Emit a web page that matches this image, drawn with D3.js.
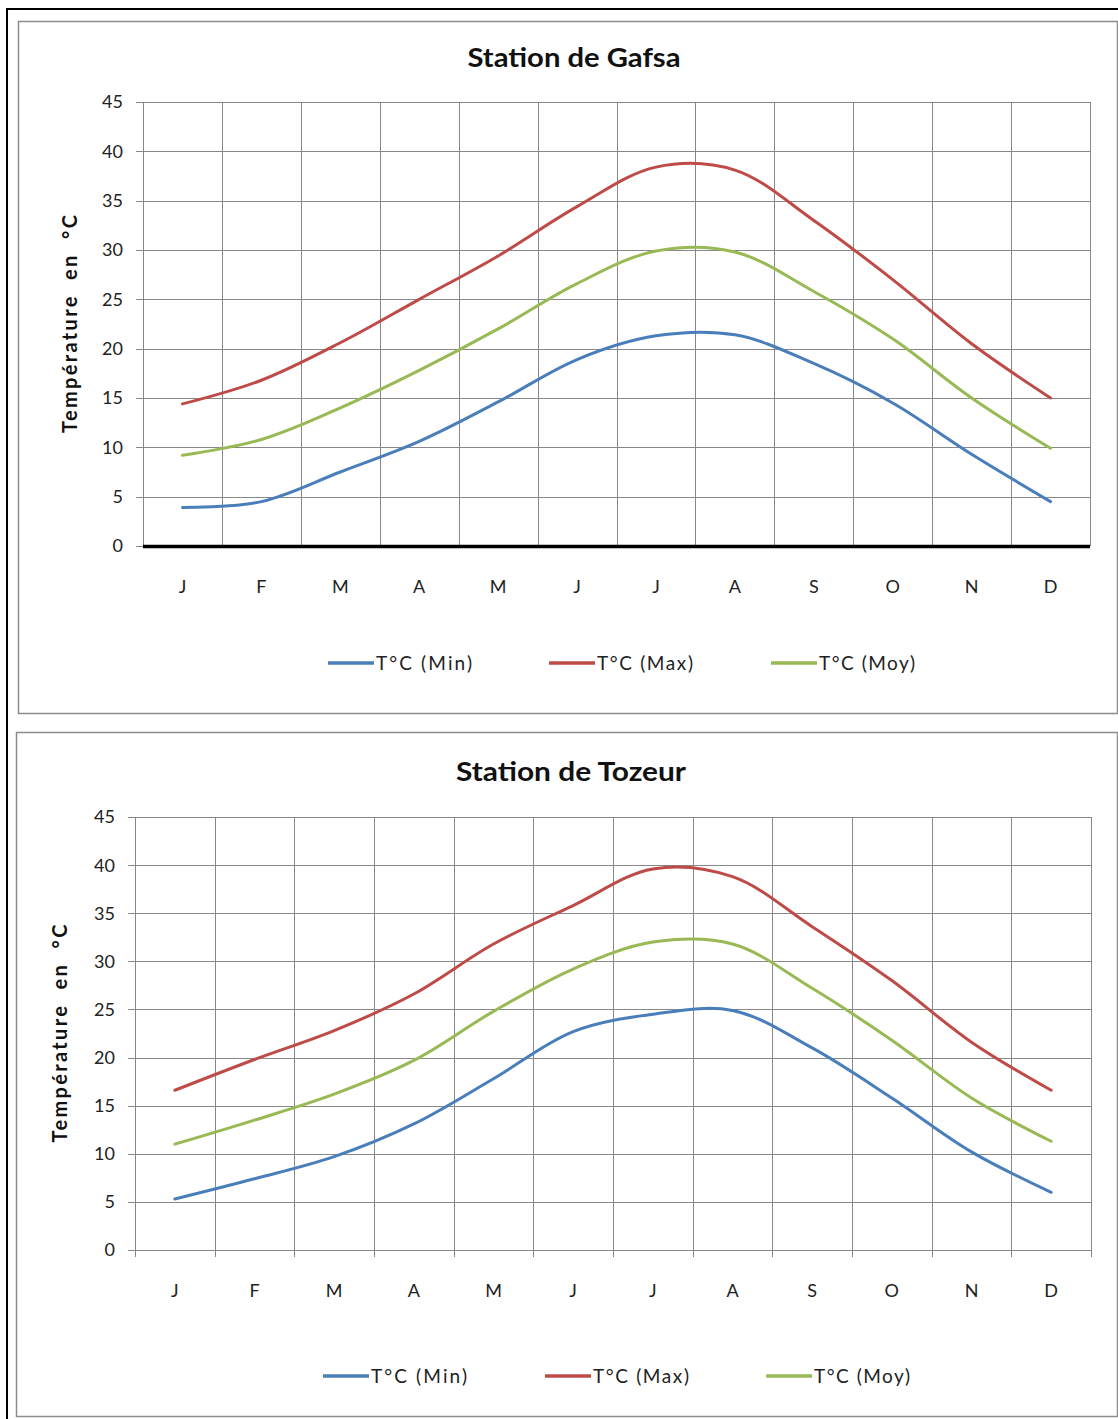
<!DOCTYPE html>
<html><head><meta charset="utf-8">
<script src="https://cdn.jsdelivr.net/npm/d3@7"></script>
<style>body{margin:0;background:#fff}svg{display:block}text{font-family:Lato,"Open Sans",sans-serif}</style>
</head><body><svg id="c" width="1118" height="1419"></svg>
<script>
const months = ["J","F","M","A","M","J","J","A","S","O","N","D"];
const yTicks = [0,5,10,15,20,25,30,35,40,45];
const seriesNames = ["T°C (Min)","T°C (Max)","T°C (Moy)"];
const seriesColors = ["#4A7EBB","#BE4B48","#98B954"];
const gafsaMin = [3.9,4.5,7.5,10.6,14.6,18.9,21.3,21.4,18.5,14.5,9.3,4.5];
const gafsaMax = [14.4,16.8,20.6,25.0,29.4,34.4,38.4,38.1,33.0,27.0,20.5,15.0];
const gafsaMoy = [9.2,10.8,14.0,17.8,22.0,26.6,29.9,29.8,25.8,21.0,15.0,9.9];
const tozeurMin = [5.3,7.4,9.7,13.1,17.8,22.7,24.5,24.9,21.0,15.8,10.2,6.0];
const tozeurMax = [16.6,19.8,22.8,26.6,31.8,35.8,39.6,38.8,33.6,28.0,21.6,16.6];
const tozeurMoy = [11.0,13.5,16.2,19.7,24.8,29.2,32.0,31.8,27.2,21.8,15.8,11.3];

const svg = d3.select("#c");
svg.append("rect").attr("x",7).attr("y",9).attr("width",1130).attr("height",1430)
  .attr("fill","none").attr("stroke","#000").attr("stroke-width",2);

function chart(cfg){
  const g = svg.append("g");
  g.append("rect").attr("x",cfg.box[0]+0.5).attr("y",cfg.box[1]+0.5).attr("width",cfg.box[2]).attr("height",cfg.box[3])
    .attr("fill","#fff").attr("stroke","#8c8c8c").attr("stroke-width",1.5);
  const x = d3.scaleBand().domain(d3.range(12)).range([cfg.left,cfg.right]);
  const y = d3.scaleLinear().domain([0,45]).range([cfg.bottom,cfg.top]);
  g.append("g").selectAll("line").data(yTicks).join("line")
    .attr("x1",cfg.left-7).attr("x2",cfg.right).attr("y1",d=>Math.round(y(d))+0.5).attr("y2",d=>Math.round(y(d))+0.5)
    .attr("stroke","#888").attr("stroke-width",1);
  const vx = d3.range(13).map(i=> i<12 ? x(i) : cfg.right);
  g.append("g").selectAll("line").data(vx).join("line")
    .attr("x1",d=>Math.round(d)+0.5).attr("x2",d=>Math.round(d)+0.5)
    .attr("y1",cfg.top).attr("y2",cfg.bottom + (cfg.thickAxis?0:7))
    .attr("stroke","#888").attr("stroke-width",1);
  if(cfg.thickAxis){
    g.append("line").attr("x1",cfg.left).attr("x2",cfg.right).attr("y1",y(0)+0.5).attr("y2",y(0)+0.5)
      .attr("stroke","#000").attr("stroke-width",3.5);
  }
  g.append("g").selectAll("text").data(yTicks).join("text")
    .attr("x",cfg.left-20).attr("y",d=>y(d)).attr("dy","0.36em").attr("text-anchor","end")
    .attr("font-size",18).attr("fill","#222").text(d=>d);
  g.append("g").selectAll("text").data(months).join("text")
    .attr("x",(d,i)=>x(i)+x.bandwidth()/2).attr("y",cfg.bottom+47).attr("text-anchor","middle")
    .attr("font-size",18).attr("fill","#222").text(d=>d);
  g.append("text").attr("x",cfg.titleX).attr("y",cfg.titleY).attr("text-anchor","middle")
    .attr("font-size",26).attr("font-weight","bold").attr("fill","#111")
    .attr("textLength",cfg.titleLen).attr("lengthAdjust","spacingAndGlyphs").text(cfg.title);
  const midY = (cfg.top+cfg.bottom)/2;
  g.append("text").attr("transform",`translate(${cfg.ytX},${midY}) rotate(-90)`).attr("text-anchor","middle")
    .attr("font-size",20).attr("font-weight","bold").attr("fill","#111").attr("xml:space","preserve")
    .attr("textLength",218).attr("lengthAdjust","spacing")
    .text("Température  en  °C");
  const line = d3.line().x((d,i)=>x(i)+x.bandwidth()/2).y(d=>y(d)).curve(d3.curveCatmullRom.alpha(0.5));
  cfg.series.forEach((s,k)=>{
    g.append("path").attr("d",line(s)).attr("fill","none").attr("stroke",seriesColors[k])
      .attr("stroke-width",3).attr("stroke-linecap","round");
  });
  cfg.legendX.forEach((lx,k)=>{
    g.append("line").attr("x1",lx).attr("x2",lx+46).attr("y1",cfg.legendY).attr("y2",cfg.legendY)
      .attr("stroke",seriesColors[k]).attr("stroke-width",3.5);
    g.append("text").attr("x",lx+48).attr("y",cfg.legendY).attr("dy","0.36em")
      .attr("font-size",19).attr("fill","#222")
      .attr("textLength",96).attr("lengthAdjust","spacing").text(seriesNames[k]);
  });
}

chart({box:[18,21,1099,692], left:143, right:1090, top:102, bottom:546, thickAxis:true,
  title:"Station de Gafsa", titleLen:213, titleX:574, titleY:67, ytX:77,
  series:[gafsaMin,gafsaMax,gafsaMoy], legendX:[328,549,771], legendY:663});
chart({box:[16,732,1101,684], left:135, right:1091, top:817, bottom:1250, thickAxis:false,
  title:"Station de Tozeur", titleLen:230, titleX:571, titleY:781, ytX:67,
  series:[tozeurMin,tozeurMax,tozeurMoy], legendX:[323,545,766], legendY:1376});
</script></body></html>
